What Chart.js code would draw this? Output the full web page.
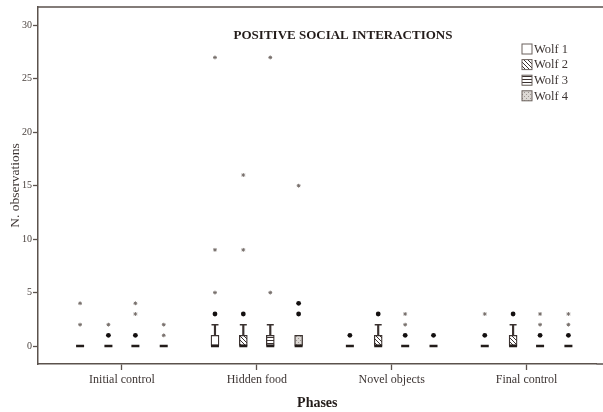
<!DOCTYPE html>
<html>
<head>
<meta charset="utf-8">
<script src="https://cdn.jsdelivr.net/npm/chart.js@4.4.0/dist/chart.umd.min.js"></script>
<style>
  html, body { margin: 0; padding: 0; background: #fff; }
</style>
</head>
<body>
<canvas id="grafico" width="603" height="412"></canvas>
<script>
// Positive social interactions per wolf and phase (boxplot)
const fases = ['Initial control', 'Hidden food', 'Novel objects', 'Final control'];
const lobos = ['Wolf 1', 'Wolf 2', 'Wolf 3', 'Wolf 4'];
const ticksY = [0, 5, 10, 15, 20, 25, 30];

// one row per wolf, one value per phase
const q1 = [[0, 0, 0, 0], [0, 0, 0, 0], [0, 0, 0, 0], [0, 0, 0, 0]];
const q3 = [[0, 1, 0, 0], [0, 1, 1, 1], [0, 1, 0, 0], [0, 1, 0, 0]];
const medianas = [[0, 0, 0, 0], [0, 0, 0, 0], [0, 0, 0, 0], [0, 0, 0, 0]];
const bigotes = [[0, 2, 0, 0], [0, 2, 2, 2], [0, 2, 0, 0], [0, 1, 0, 0]];
// outliers (o) and extremes (*)
const atipicos = [
  [[], [3], [1], [1]],
  [[1], [3], [3], [3]],
  [[1], [], [1], [1]],
  [[], [3, 4], [1], [1]]];
const extremos = [
  [[2, 4], [5, 9, 27], [], [3]],
  [[2], [9, 16], [], []],
  [[3, 4], [5, 27], [2, 3], [2, 3]],
  [[1, 2], [15], [], [2, 3]]];

const desplaz = [-0.31, -0.1, 0.1, 0.31];
const tinta = '#3b3230';
const fuente = '"Liberation Serif", "Times New Roman", serif';

const ctx = document.getElementById('grafico').getContext('2d');

const patron = (tipo) => {
  const c = document.createElement('canvas');
  c.width = 4; c.height = tipo === 'horiz' ? 3 : 4;
  const g = c.getContext('2d');
  g.fillStyle = '#fff'; g.fillRect(0, 0, c.width, c.height);
  if (tipo === 'diag') {
    g.strokeStyle = tinta; g.lineWidth = 1;
    g.beginPath(); g.moveTo(-1, -1); g.lineTo(5, 5); g.stroke();
  } else if (tipo === 'horiz') {
    g.fillStyle = tinta; g.fillRect(0, 1, 4, 1);
  } else if (tipo === 'punt') {
    g.fillStyle = '#dcd8d4'; g.fillRect(0, 0, 4, 4);
    g.fillStyle = '#9c9591'; g.fillRect(0, 0, 1, 1); g.fillRect(2, 2, 1, 1);
  }
  return ctx.createPattern(c, 'repeat');
};
const rellenos = ['#fff', patron('diag'), patron('horiz'), patron('punt')];

const pos = (w, p) => p + 1 + desplaz[w];

const cajas = lobos.map((lobo, w) => ({
  type: 'bar', label: lobo, order: 3,
  data: fases.map((f, p) => ({x: pos(w, p), y: [q1[w][p], q3[w][p]]})).filter(d => d.y[1] > d.y[0]),
  backgroundColor: rellenos[w], borderColor: tinta, borderWidth: 1.3,
  borderSkipped: false, barThickness: 8, grouped: false
}));

const lineasBigote = lobos.map((lobo, w) => ({
  type: 'bar', label: lobo + ' whisker', order: 4,
  data: fases.map((f, p) => ({x: pos(w, p), y: [q3[w][p], bigotes[w][p]]})).filter(d => d.y[1] > d.y[0]),
  backgroundColor: tinta, borderWidth: 0, barThickness: 1.5, grouped: false
}));

const todos = (fn) => lobos.flatMap((l, w) => fases.flatMap((f, p) => fn(w, p)));

const topes = {
  type: 'scatter', label: 'caps', order: 1,
  data: todos((w, p) => bigotes[w][p] > q3[w][p] ? [{x: pos(w, p), y: bigotes[w][p]}] : []),
  pointStyle: 'line', radius: 3.5, borderWidth: 1.5, borderColor: tinta
};
const lineasMediana = {
  type: 'scatter', label: 'median', order: 1,
  data: todos((w, p) => [{x: pos(w, p), y: medianas[w][p]}]),
  pointStyle: 'line', radius: 4, borderWidth: 2.4, borderColor: '#231c1a'
};
const puntosAtip = {
  type: 'scatter', label: 'outliers', order: 0,
  data: todos((w, p) => atipicos[w][p].map(v => ({x: pos(w, p), y: v}))),
  pointStyle: 'circle', radius: 2.4, borderWidth: 0, backgroundColor: '#141010'
};
const puntosExt = {
  type: 'scatter', label: 'extremes', order: 0,
  data: todos((w, p) => extremos[w][p].map(v => ({x: pos(w, p), y: v}))),
  pointStyle: 'star', radius: 1.9, borderWidth: 1, borderColor: '#766e6a'
};

const marco = {
  id: 'marco',
  afterDraw(chart) {
    const {ctx: c, chartArea: a} = chart;
    c.save();
    // frame runs on past the right edge of the picture
    c.strokeStyle = '#5b524d'; c.lineWidth = 1.5;
    c.beginPath();
    c.moveTo(a.left, a.top); c.lineTo(chart.width, a.top);
    c.moveTo(a.right, a.bottom); c.lineTo(chart.width, a.bottom);
    c.stroke();
    c.fillStyle = '#231c1a';
    c.font = 'bold 13px ' + fuente;
    c.textAlign = 'center'; c.textBaseline = 'middle';
    c.fillText('POSITIVE SOCIAL INTERACTIONS', a.left + 305, a.top + 29);
    c.font = '12.5px ' + fuente; c.textAlign = 'left';
    lobos.forEach((lobo, w) => {
      const y = a.top + 37 + w * 15.6;
      c.fillStyle = rellenos[w];
      c.fillRect(a.left + 484, y, 10, 10);
      c.strokeStyle = '#6a615c'; c.lineWidth = 1;
      c.strokeRect(a.left + 484, y, 10, 10);
      c.fillStyle = '#3d3533';
      c.fillText(lobo, a.left + 496, y + 5.5);
    });
    c.restore();
  }
};

new Chart(ctx, {
  type: 'bar',
  data: {datasets: [...cajas, ...lineasBigote, topes, lineasMediana, puntosAtip, puntosExt]},
  options: {
    responsive: false,
    animation: false,
    events: [],
    layout: {padding: 0},
    plugins: {legend: {display: false}, tooltip: {enabled: false}},
    scales: {
      x: {
        type: 'linear', min: 0.378, max: 4.519, offset: false,
        afterBuildTicks: (s) => { s.ticks = fases.map((f, i) => ({value: i + 1})); },
        afterFit: (s) => { s.height = 48; },
        ticks: {
          callback: (v) => fases[Math.round(v) - 1],
          color: '#3d3533', font: {family: fuente, size: 12}, padding: 3, maxRotation: 0
        },
        grid: {drawOnChartArea: false, offset: false, tickLength: 6, color: '#5b524d', tickWidth: 1.3},
        border: {color: '#5b524d', width: 1.5},
        title: {display: true, text: 'Phases', color: '#231c1a',
          font: {family: fuente, size: 14, weight: 'bold'}, padding: {top: 0, bottom: 0}}
      },
      y: {
        min: -1.68, max: 31.72,
        afterBuildTicks: (s) => { s.ticks = ticksY.map(v => ({value: v})); },
        afterFit: (s) => { s.width = 38; },
        ticks: {color: '#4a413d', font: {family: fuente, size: 10}, padding: 1},
        grid: {drawOnChartArea: false, tickLength: 5, color: '#5b524d', tickWidth: 1.3},
        border: {color: '#5b524d', width: 1.5},
        title: {display: true, text: 'N. observations', color: '#3d3533',
          font: {family: fuente, size: 13.5}, padding: {top: 7, bottom: 0}}
      }
    }
  },
  plugins: [marco]
});
</script>
</body>
</html>
